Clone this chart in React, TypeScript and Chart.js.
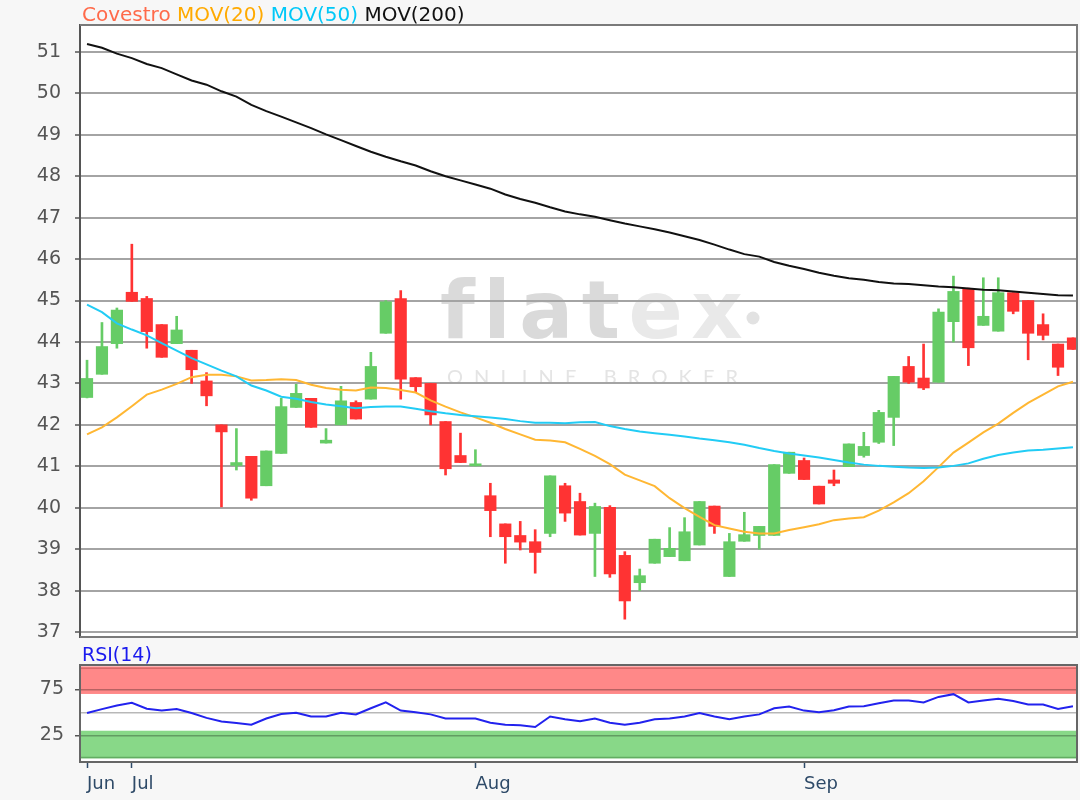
import React, { useEffect, useRef } from 'react';
import { Chart, registerables } from 'chart.js';

Chart.register(...registerables);

// ---------- data ----------
const opens = [42.66, 43.22, 43.96, 45.20, 45.05, 44.42, 43.96, 43.80, 43.06, 42.00,
  41.02, 41.24, 40.53, 41.31, 42.42, 42.64, 41.56, 42.00, 42.54, 42.62,
  44.21, 45.05, 43.14, 43.00, 42.08, 41.26, 41.01, 40.29, 39.61, 39.33,
  39.18, 39.38, 40.53, 40.15, 39.38, 40.01, 38.85, 38.19, 38.66, 38.82,
  38.72, 39.10, 40.04, 38.34, 39.19, 39.33, 39.33, 40.83, 41.14, 40.52,
  40.67, 40.99, 41.26, 41.58, 42.18, 43.41, 43.13, 43.03, 44.49, 45.28,
  44.40, 44.26, 45.19, 45.00, 44.42, 43.95, 44.10];
const highs = [43.56, 44.47, 44.82, 46.36, 45.10, 44.42, 44.62, 43.80, 43.26, 42.00,
  41.91, 41.24, 41.37, 42.64, 42.98, 42.64, 41.91, 42.93, 42.58, 43.75,
  45.00, 45.24, 43.14, 43.00, 42.08, 41.80, 41.40, 40.59, 39.61, 39.67,
  39.47, 40.77, 40.59, 40.35, 40.11, 40.05, 38.94, 38.52, 39.24, 39.52,
  39.76, 40.15, 40.04, 39.38, 39.89, 39.55, 41.04, 41.34, 41.20, 40.52,
  40.91, 41.54, 41.82, 42.35, 43.17, 43.65, 43.95, 44.80, 45.59, 45.30,
  45.55, 45.55, 45.19, 45.00, 44.68, 43.95, 44.10];
const lows = [42.65, 43.22, 43.85, 44.98, 43.85, 43.63, 43.96, 43.00, 42.46, 40.02,
  40.91, 40.18, 40.53, 41.31, 42.42, 41.94, 41.56, 42.00, 42.14, 42.62,
  44.21, 42.62, 42.80, 42.00, 40.79, 41.09, 41.01, 39.30, 38.66, 38.98,
  38.42, 39.30, 39.67, 39.34, 38.34, 38.32, 37.31, 38.00, 38.66, 38.82,
  38.72, 39.10, 39.38, 38.34, 39.19, 39.00, 39.33, 40.83, 40.68, 40.09,
  40.53, 40.99, 41.22, 41.55, 41.50, 43.00, 42.85, 43.03, 44.00, 43.43,
  44.40, 44.26, 44.68, 43.57, 44.05, 43.19, 43.82];
const closes = [43.12, 43.89, 44.77, 44.98, 44.25, 43.63, 44.29, 43.33, 42.70, 41.83,
  41.09, 40.23, 41.37, 42.44, 42.76, 41.94, 41.63, 42.58, 42.14, 43.41,
  44.97, 43.10, 42.92, 42.24, 40.94, 41.09, 41.06, 39.93, 39.30, 39.17,
  38.92, 40.77, 39.87, 39.34, 40.03, 38.40, 37.75, 38.36, 39.24, 39.02,
  39.42, 40.15, 39.55, 39.18, 39.35, 39.55, 41.04, 41.34, 40.68, 40.09,
  40.59, 41.54, 41.48, 42.30, 43.17, 43.03, 42.89, 44.72, 45.22, 43.86,
  44.62, 45.19, 44.74, 44.21, 44.16, 43.39, 43.82];

const mov20 = [41.77, 41.94, 42.18, 42.45, 42.73, 42.85, 42.99, 43.15, 43.21, 43.21,
  43.17, 43.07, 43.08, 43.10, 43.08, 42.97, 42.89, 42.85, 42.83, 42.90,
  42.89, 42.84, 42.78, 42.59, 42.44, 42.30, 42.18, 42.05, 41.90, 41.77,
  41.64, 41.62, 41.58, 41.42, 41.25, 41.05, 40.80, 40.66, 40.52, 40.23,
  39.99, 39.78, 39.58, 39.50, 39.42, 39.38, 39.38, 39.46, 39.53, 39.60,
  39.70, 39.74, 39.77, 39.93, 40.13, 40.35, 40.64, 40.98, 41.33, 41.57,
  41.82, 42.03, 42.29, 42.53, 42.73, 42.93, 43.04];
const mov50 = [44.90, 44.72, 44.45, 44.30, 44.16, 43.97, 43.79, 43.61, 43.46, 43.31,
  43.17, 42.95, 42.83, 42.68, 42.63, 42.55, 42.49, 42.45, 42.40, 42.43,
  42.44, 42.44, 42.39, 42.33, 42.28, 42.24, 42.21, 42.18, 42.14, 42.09,
  42.05, 42.05, 42.04, 42.06, 42.07, 41.97, 41.90, 41.84, 41.80, 41.76,
  41.72, 41.67, 41.63, 41.58, 41.52, 41.44, 41.37, 41.31, 41.26, 41.21,
  41.15, 41.09, 41.04, 41.01, 40.99, 40.97, 40.96, 40.97, 41.01, 41.07,
  41.18, 41.27, 41.33, 41.38, 41.40, 41.43, 41.46];
const mov200 = [51.19, 51.10, 50.96, 50.85, 50.71, 50.61, 50.46, 50.31, 50.21, 50.05,
  49.92, 49.72, 49.57, 49.44, 49.30, 49.16, 49.01, 48.87, 48.73, 48.59,
  48.47, 48.36, 48.26, 48.12, 48.00, 47.90, 47.80, 47.70, 47.56, 47.45,
  47.36, 47.25, 47.15, 47.08, 47.02, 46.94, 46.86, 46.79, 46.72, 46.64,
  46.55, 46.46, 46.35, 46.23, 46.12, 46.06, 45.93, 45.84, 45.76, 45.67,
  45.60, 45.54, 45.50, 45.45, 45.41, 45.40, 45.37, 45.34, 45.32, 45.29,
  45.26, 45.25, 45.22, 45.19, 45.16, 45.13, 45.12];
const rsi14 = [49.3, 53.5, 57.5, 60.4, 54.0, 52.0, 53.7, 49.3, 44.0, 40.0,
  38.5, 36.6, 43.3, 48.1, 49.6, 45.5, 45.5, 49.6, 47.8, 54.5,
  60.8, 51.9, 50.0, 47.8, 43.3, 43.3, 43.3, 38.8, 36.6, 36.0,
  34.0, 45.5, 42.5, 40.3, 43.3, 38.8, 36.6, 38.8, 42.5, 43.3,
  45.5, 49.3, 45.5, 42.5, 45.5, 47.8, 54.5, 56.3, 51.9, 50.0,
  52.2, 56.3, 56.7, 60.0, 63.0, 63.0, 60.8, 66.8, 69.8, 60.8,
  63.0, 64.9, 62.3, 58.6, 58.6, 53.7, 56.7];

const monthTickIndex = [0, 3, 26, 48];
const monthTickLabels = ['Jun', 'Jul', 'Aug', 'Sep'];
const priceTicks = [37, 38, 39, 40, 41, 42, 43, 44, 45, 46, 47, 48, 49, 50, 51];
const rsiTicks = [25, 50, 75];
const rsiOverbought = [70, 100];
const rsiOversold = [0, 30];

// ---------- styling constants ----------
const X_MIN = -0.47;
const X_MAX = 66.27;
const UP = '#66cc66';
const DOWN = '#ff3333';
const FONT = 'DejaVu Sans';

const idx = opens.map((_, i) => i);
const candleColors = idx.map(i => (closes[i] >= opens[i] ? UP : DOWN));
const series = (arr: number[]) => arr.map((y, i) => ({ x: i, y }));

const zeroPad = (s: any) => {
  s.paddingTop = 0; s.paddingBottom = 0; s.paddingLeft = 0; s.paddingRight = 0;
};

const mainDecor = {
  id: 'mainDecor',
  beforeDraw(chart: any) {
    const { ctx, chartArea: a } = chart;
    ctx.save();
    ctx.fillStyle = '#ffffff';
    ctx.fillRect(a.left, a.top, a.right - a.left, a.bottom - a.top);
    // watermark
    ctx.textBaseline = 'alphabetic';
    ctx.textAlign = 'left';
    ctx.font = 'bold 80px "DejaVu Sans"';
    const word = 'flatex';
    const natural = ctx.measureText(word).width;
    const sp = (300 - natural) / (word.length - 1);
    let x = 440;
    for (let i = 0; i < word.length; i++) {
      const ch = word[i];
      ctx.fillStyle = i < 4 ? '#dadada' : '#e9e9e9';
      ctx.fillText(ch, x, 338);
      x += ctx.measureText(ch).width + sp;
    }
    ctx.fillStyle = '#e2e2e2';
    ctx.beginPath();
    ctx.arc(753, 318, 6.5, 0, Math.PI * 2);
    ctx.fill();
    ctx.font = '20px Lato';
    const sub = 'ONLINE BROKER';
    const nat2 = ctx.measureText(sub).width;
    const sp2 = (291 - nat2) / (sub.length - 1);
    let x2 = 447;
    ctx.fillStyle = '#e4e4e4';
    for (const ch of sub) {
      ctx.fillText(ch, x2, 384);
      x2 += ctx.measureText(ch).width + sp2;
    }
    ctx.restore();
  },
  afterDraw(chart: any) {
    const { ctx, chartArea: a } = chart;
    ctx.save();
    ctx.strokeStyle = '#7a7a7a';
    ctx.lineWidth = 2;
    ctx.beginPath();
    ctx.moveTo(a.left, a.top);
    ctx.lineTo(a.right, a.top);
    ctx.lineTo(a.right, a.bottom);
    ctx.lineTo(a.left, a.bottom);
    ctx.stroke();
    ctx.restore();
  },
};

const rsiDecor = {
  id: 'rsiDecor',
  beforeDraw(chart: any) {
    const { ctx, chartArea: a, scales } = chart;
    const y = scales.y;
    ctx.save();
    ctx.fillStyle = '#ffffff';
    ctx.fillRect(a.left, a.top, a.right - a.left, a.bottom - a.top);
    const band = (range: number[], fill: string, edge: string, edgeAt: number) => {
      const y1 = y.getPixelForValue(range[1]);
      const y0 = y.getPixelForValue(range[0]);
      ctx.fillStyle = fill;
      ctx.fillRect(a.left, y1, a.right - a.left, y0 - y1);
      ctx.strokeStyle = edge;
      ctx.lineWidth = 1.5;
      ctx.beginPath();
      const ye = y.getPixelForValue(edgeAt);
      ctx.moveTo(a.left, ye);
      ctx.lineTo(a.right, ye);
      ctx.stroke();
    };
    band(rsiOverbought, '#ff8888', '#d86a6a', rsiOverbought[1] - 2);
    band(rsiOversold, '#88d888', '#62ad62', rsiOversold[0] + 1);
    ctx.restore();
  },
  afterDraw(chart: any) {
    const { ctx, chartArea: a } = chart;
    ctx.save();
    ctx.strokeStyle = '#666666';
    ctx.lineWidth = 2;
    ctx.strokeRect(a.left, a.top, a.right - a.left, a.bottom - a.top);
    ctx.restore();
  },
};

export default function App() {
  const mainRef = useRef<HTMLCanvasElement>(null);
  const rsiRef = useRef<HTMLCanvasElement>(null);

  useEffect(() => {
    const main = new Chart(mainRef.current as HTMLCanvasElement, {
      type: 'bar',
      data: {
        datasets: [
          {
            type: 'line', label: 'MOV(200)', data: series(mov200), borderColor: '#111111',
            borderWidth: 2, pointRadius: 0, tension: 0, order: 0,
          } as any,
          {
            type: 'line', label: 'MOV(50)', data: series(mov50), borderColor: '#22ccf5',
            borderWidth: 2, pointRadius: 0, tension: 0, order: 0,
          } as any,
          {
            type: 'line', label: 'MOV(20)', data: series(mov20), borderColor: '#ffb733',
            borderWidth: 2, pointRadius: 0, tension: 0, order: 0,
          } as any,
          {
            type: 'bar', label: 'wick', data: idx.map(i => ({ x: i, y: [lows[i], highs[i]] })),
            backgroundColor: candleColors, barThickness: 2, grouped: false, order: 2, minBarLength: 1,
          } as any,
          {
            type: 'bar', label: 'Covestro', data: idx.map(i => ({ x: i, y: [opens[i], closes[i]] })),
            backgroundColor: candleColors, barThickness: 11.5, grouped: false, order: 1, minBarLength: 2,
          } as any,
        ],
      },
      options: {
        animation: false,
        responsive: false,
        devicePixelRatio: 1,
        layout: { padding: { top: 25, right: 3, bottom: 3, left: 0 } },
        plugins: { legend: { display: false }, tooltip: { enabled: false } },
        scales: {
          x: { type: 'linear', min: X_MIN, max: X_MAX, display: false, offset: false },
          y: {
            type: 'linear', min: 36.88, max: 51.65,
            afterBuildTicks: (ax: any) => { ax.ticks = priceTicks.map(v => ({ value: v })); },
            afterFit: (s: any) => { s.width = 80; zeroPad(s); },
            ticks: { font: { family: FONT, size: 19 }, color: '#555555', padding: 14 },
            grid: { color: '#a4a4a4', lineWidth: 2, tickLength: 5, tickColor: '#555555', tickWidth: 1.5 },
            border: { display: true, color: '#555555', width: 2 },
          },
        },
      } as any,
      plugins: [mainDecor],
    });

    const rsi = new Chart(rsiRef.current as HTMLCanvasElement, {
      type: 'line',
      data: {
        datasets: [
          {
            label: 'RSI(14)', data: series(rsi14), borderColor: '#2222ee', borderWidth: 2,
            pointRadius: 0, tension: 0,
          },
        ],
      },
      options: {
        animation: false,
        responsive: false,
        devicePixelRatio: 1,
        layout: { padding: { top: 25, right: 3, bottom: 0, left: 0 } },
        plugins: { legend: { display: false }, tooltip: { enabled: false } },
        scales: {
          x: {
            type: 'linear', min: X_MIN, max: X_MAX, offset: false,
            afterBuildTicks: (ax: any) => { ax.ticks = monthTickIndex.map(v => ({ value: v })); },
            afterFit: (s: any) => { s.height = 38; zeroPad(s); },
            ticks: {
              autoSkip: false, maxRotation: 0, align: 'start', padding: 6,
              font: { family: FONT, size: 18 }, color: '#2e4a68',
              callback: (v: any) => monthTickLabels[monthTickIndex.indexOf(Number(v))] ?? '',
            },
            grid: { drawOnChartArea: false, drawTicks: true, tickLength: 6, tickColor: '#2e4a68', tickWidth: 1.5 },
            border: { display: false },
          },
          y: {
            type: 'linear', min: -4, max: 101.5,
            afterBuildTicks: (ax: any) => { ax.ticks = rsiTicks.map(v => ({ value: v })); },
            afterFit: (s: any) => { s.width = 80; zeroPad(s); },
            ticks: {
              font: { family: FONT, size: 19 }, color: '#555555', padding: 11,
              callback: (v: any) => (Number(v) === 50 ? '' : String(v)),
            },
            grid: {
              color: 'rgba(0,0,0,0.28)', lineWidth: 1.5, tickLength: 5, tickWidth: 1.5,
              tickColor: (c: any) => (c.tick && c.tick.value === 50 ? 'rgba(0,0,0,0)' : '#555555'),
            },
            border: { display: false },
          },
        },
      } as any,
      plugins: [rsiDecor],
    });

    return () => { main.destroy(); rsi.destroy(); };
  }, []);

  return (
    <div style={{ position: 'fixed', left: 0, top: 0, width: 1080, height: 800, background: '#f7f7f7', overflow: 'hidden' }}>
      <canvas ref={mainRef} width={1080} height={640} style={{ position: 'absolute', left: 0, top: 0 }} />
      <canvas ref={rsiRef} width={1080} height={160} style={{ position: 'absolute', left: 0, top: 640 }} />
      <div style={{ position: 'absolute', left: 82, top: 4, fontFamily: FONT, fontSize: 20, lineHeight: '20px', whiteSpace: 'nowrap' }}>
        <span style={{ color: '#ff6a4a' }}>Covestro</span>{' '}
        <span style={{ color: '#ffaa00' }}>MOV(20)</span>{' '}
        <span style={{ color: '#00c8f8' }}>MOV(50)</span>{' '}
        <span style={{ color: '#111111' }}>MOV(200)</span>
      </div>
      <div style={{ position: 'absolute', left: 82, top: 645, fontFamily: FONT, fontSize: 19, lineHeight: '19px', color: '#1a1aee', whiteSpace: 'nowrap' }}>
        RSI(14)
      </div>
    </div>
  );
}
